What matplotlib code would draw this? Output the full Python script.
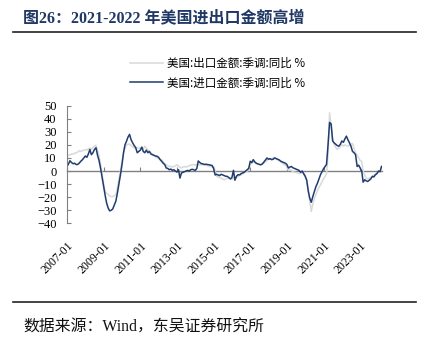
import matplotlib
matplotlib.use("Agg")
import matplotlib.pyplot as plt
import pandas as pd
import numpy as np

# ---- data (monthly, 2007-01 .. 2024-03) ----
export_yoy = (
    [11.7, 12.0, 12.5, 13.0, 13.0, 13.5, 14.0, 14.5, 15.6, 15.0, 15.5, 16.0] +      # 2007
    [16.5, 16.0, 17.0, 17.5, 16.5, 18.0, 19.0, 19.7, 16.0, 12.0, 4.8, -3.0] +        # 2008
    [-10.0, -15.7, -17.0, -18.0, -19.0, -19.5, -19.5, -19.0, -18.0, -13.0, -6.0, 0.0] +  # 2009
    [7.0, 14.0, 17.0, 20.0, 20.5, 20.7, 19.5, 18.5, 17.7, 17.0, 18.0, 17.5] +        # 2010
    [17.7, 18.0, 17.0, 19.0, 17.5, 16.3, 15.0, 14.0, 13.0, 12.0, 11.0, 10.0] +       # 2011
    [9.5, 9.0, 8.7, 7.0, 5.5, 4.8, 4.0, 3.5, 3.5, 3.0, 3.5, 4.0] +                   # 2012
    [4.8, 4.0, 3.0, 2.3, 3.0, 3.5, 3.0, 3.5, 4.0, 4.5, 4.8, 5.0] +                   # 2013
    [4.5, 5.0, 5.0, 4.5, 5.0, 4.8, 4.8, 4.5, 4.0, 3.5, 3.5, 3.0] +                   # 2014
    [3.5, 0.0, -4.0, -4.5, -5.0, -5.5, -6.0, -6.7, -6.0, -5.5, -5.4, -6.0] +         # 2015
    [-6.5, -5.5, -5.4, -5.0, -4.0, -3.5, -3.0, -2.0, -1.0, -0.5, 0.0, 1.0] +         # 2016
    [5.0, 6.0, 7.0, 6.5, 5.5, 5.5, 5.0, 5.0, 5.5, 6.0, 7.0, 8.0] +                   # 2017
    [9.0, 9.5, 9.0, 10.0, 10.5, 9.5, 8.5, 8.0, 7.0, 6.0, 5.0, 4.5] +                 # 2018
    [3.0, 0.5, 1.0, 0.5, -0.5, -1.0, -1.0, -1.5, -2.0, -1.5, -1.5, -2.0] +           # 2019
    [-2.8, -8.0, -15.0, -23.3, -31.0, -25.0, -21.0, -18.0, -15.0, -12.5, -10.5, -8.0] +  # 2020
    [-6.0, -4.1, -2.0, 12.0, 44.6, 34.3, 25.0, 20.5, 18.0, 16.5, 17.5, 18.5] +       # 2021
    [20.5, 19.0, 20.0, 19.5, 19.0, 20.0, 20.5, 21.0, 17.0, 14.0, 12.0, 10.0] +       # 2022
    [8.0, 7.5, 0.0, -3.0, -5.4, -6.0, -5.4, -5.0, -4.0, -3.0, -2.5, -1.5] +          # 2023
    [-1.0, 0.0, 0.5]                                                                 # 2024
)

import_yoy = (
    [3.5, 5.5, 7.9, 6.5, 5.6, 6.0, 5.0, 5.0, 6.0, 7.4, 8.5, 10.0] +                  # 2007
    [11.5, 10.5, 13.0, 16.5, 12.5, 14.0, 16.5, 17.8, 12.0, 8.0, 2.0, -5.0] +         # 2008
    [-11.8, -19.0, -24.5, -28.4, -30.5, -30.0, -29.0, -26.0, -23.0, -17.0, -10.0, -3.0] +  # 2009
    [4.9, 14.0, 20.0, 22.8, 26.0, 28.0, 24.0, 21.6, 19.5, 18.0, 14.0, 15.0] +        # 2010
    [16.0, 18.3, 15.0, 14.0, 16.0, 14.0, 15.0, 13.0, 12.5, 12.0, 11.5, 11.3] +       # 2011
    [10.5, 8.7, 7.5, 6.0, 5.0, 2.3, 2.0, 1.0, 1.5, 0.5, 1.0, 0.0] +                  # 2012
    [-0.8, 1.0, -5.4, -1.5, -1.0, -0.5, 0.0, 0.5, 0.0, 1.0, 1.3, 1.0] +              # 2013
    [0.5, 2.0, 7.7, 6.5, 5.7, 5.5, 5.0, 5.2, 5.0, 4.8, 4.5, 4.3] +                   # 2014
    [2.0, -3.0, -2.5, -3.0, -3.5, -2.5, -3.0, -3.5, -4.0, -4.1, -5.0, -6.0] +        # 2015
    [-5.0, 0.5, -7.0, -4.0, -2.8, -3.0, -2.0, -1.5, -1.0, 0.0, 1.0, 2.0] +           # 2016
    [7.5, 6.5, 8.7, 7.0, 6.0, 5.5, 5.0, 4.8, 5.5, 7.0, 8.5, 10.0] +                  # 2017
    [9.0, 9.5, 8.7, 9.0, 10.0, 9.5, 9.0, 8.5, 7.5, 7.0, 6.5, 6.0] +                  # 2018
    [5.0, 2.3, 3.0, 3.5, 2.5, 2.0, 1.5, 1.0, 0.5, -1.0, 0.0, -2.0] +                 # 2019
    [-4.1, -7.0, -15.0, -20.8, -23.9, -19.5, -15.7, -12.0, -9.3, -6.0, -2.8, -0.5] + # 2020
    [1.8, 3.5, 5.0, 20.5, 37.2, 36.0, 23.0, 21.5, 20.5, 19.5, 19.0, 20.5] +          # 2021
    [23.0, 22.0, 24.5, 26.7, 24.0, 21.6, 19.0, 15.0, 14.0, 12.5, 3.5, 4.5] +         # 2022
    [2.3, 0.0, -8.5, -6.7, -7.5, -8.0, -7.0, -6.0, -4.1, -4.5, -2.8, -2.0] +         # 2023
    [0.0, -0.5, 3.5]                                                                 # 2024
)

tick_labels = ["2007-01", "2009-01", "2011-01", "2013-01", "2015-01",
               "2017-01", "2019-01", "2021-01", "2023-01"]
series_names = ["美国:出口金额:季调:同比 %", "美国:进口金额:季调:同比 %"]
title = "图26：2021-2022 年美国进出口金额高增"
source = "数据来源：Wind，东吴证券研究所"

dates = pd.date_range("2007-01-01", periods=len(import_yoy), freq="MS")
tick_dates = pd.to_datetime(tick_labels, format="%Y-%m")

CJK = ["Noto Sans CJK SC", "DejaVu Sans"]
SERIF_CJK = ["Liberation Serif", "Noto Sans CJK SC"]

fig = plt.figure(figsize=(4.28, 3.40), dpi=100)
ax = fig.add_axes([67 / 428, 1 - 223.3 / 340, (381.5 - 67) / 428, (223.3 - 105.7) / 340])

gray = "#D9D9D9"
navy = "#1F3D6E"
ax.plot(dates, export_yoy, color=gray, lw=1.1, label=series_names[0])
ax.plot(dates, import_yoy, color=navy, lw=1.1, label=series_names[1])

ax.set_xlim(dates[0], dates[-1])
ax.set_ylim(-40, 50)
ax.set_yticks(np.arange(-40, 51, 10))
for lab in ax.get_yticklabels():
    lab.set_fontfamily("Liberation Serif")
    lab.set_fontsize(9)
ax.tick_params(axis="y", direction="in", length=3, width=0.8, color="#808080", pad=7.5)

for s in ["top", "right", "bottom"]:
    ax.spines[s].set_visible(False)
ax.spines["left"].set_color("#808080")
ax.spines["left"].set_linewidth(0.8)

ax.set_xticks(tick_dates)
ax.set_xticklabels(tick_labels, rotation=45, ha="right", rotation_mode="anchor",
                   fontfamily="Liberation Serif", fontsize=8.5)
ax.tick_params(axis="x", length=0, pad=12)

# zero axis with inward ticks
sec = ax.secondary_xaxis(40 / 90)
sec.set_xticks(tick_dates)
sec.set_xticklabels([])
sec.tick_params(axis="x", direction="in", length=3, width=0.8, color="#808080")
sec.spines["bottom"].set_color("#808080")
sec.spines["bottom"].set_linewidth(1.0)

leg = fig.legend(loc="upper center", bbox_to_anchor=(218 / 428, 1 - 57 / 340),
                 frameon=False, prop={"family": CJK, "size": 8.3},
                 handlelength=2.8, handletextpad=0.4, labelspacing=0.55,
                 borderaxespad=0, borderpad=0)

fig.text(23 / 428, 1 - 18 / 340, title, family=SERIF_CJK, fontsize=11.5,
         fontweight="bold", color="#1F3864", va="center", ha="left")
fig.add_artist(plt.Line2D([13 / 428, 416 / 428], [1 - 32.3 / 340] * 2,
                          transform=fig.transFigure, color="#222222", lw=1.2))
fig.add_artist(plt.Line2D([13 / 428, 416 / 428], [1 - 302.3 / 340] * 2,
                          transform=fig.transFigure, color="#222222", lw=1.2))
fig.text(23 / 428, 1 - 328 / 340, source, family=SERIF_CJK, fontsize=11.4,
         color="#111111", va="center", ha="left")

fig.savefig("out.png", dpi=100)
